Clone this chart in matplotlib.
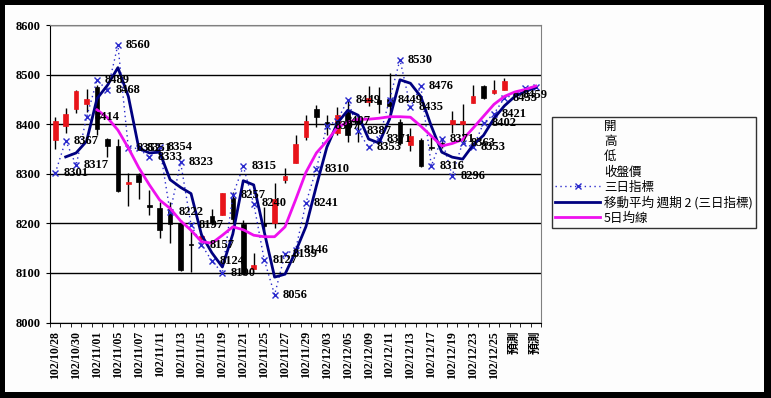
import matplotlib
matplotlib.use('Agg')
import matplotlib.pyplot as plt
import matplotlib.patches as patches
from matplotlib.lines import Line2D
import pandas as pd

dates = ['102/10/28', '102/10/29', '102/10/30', '102/10/31', '102/11/01', '102/11/04',
         '102/11/05', '102/11/06', '102/11/07', '102/11/08', '102/11/11', '102/11/12',
         '102/11/13', '102/11/14', '102/11/15', '102/11/18', '102/11/19', '102/11/20',
         '102/11/21', '102/11/22', '102/11/25', '102/11/26', '102/11/27', '102/11/28',
         '102/11/29', '102/12/02', '102/12/03', '102/12/04', '102/12/05', '102/12/06',
         '102/12/09', '102/12/10', '102/12/11', '102/12/12', '102/12/13', '102/12/16',
         '102/12/17', '102/12/18', '102/12/19', '102/12/20', '102/12/23', '102/12/24',
         '102/12/25', '102/12/26', '預測', '預測', '預測']

# 開 高 低 收盤價 (only real trading days)
opens = [8368, 8396, 8430, 8440, 8474, 8371, 8355, 8279, 8297, 8237, 8230, 8228,
         8200, 8158, 8168, 8215, 8217, 8252, 8198, 8108, 8200, 8200, 8288, 8321,
         8374, 8430, 8405, 8382, 8425, 8408, 8445, 8448, 8450, 8405, 8357, 8368,
         8354, 8362, 8400, 8401, 8443, 8476, 8462, 8469]
highs = [8415, 8432, 8468, 8470, 8479, 8373, 8371, 8301, 8301, 8267, 8244, 8244,
         8207, 8186, 8180, 8228, 8262, 8264, 8207, 8140, 8232, 8281, 8311, 8378,
         8418, 8439, 8418, 8435, 8449, 8418, 8477, 8474, 8503, 8410, 8392, 8372,
         8375, 8368, 8426, 8440, 8479, 8478, 8489, 8493]
lows = [8349, 8383, 8422, 8425, 8378, 8334, 8263, 8234, 8250, 8217, 8170, 8160,
        8103, 8102, 8160, 8196, 8216, 8200, 8096, 8108, 8185, 8190, 8281, 8321,
        8368, 8395, 8378, 8378, 8365, 8365, 8437, 8422, 8415, 8358, 8345, 8313,
        8348, 8352, 8382, 8375, 8443, 8450, 8461, 8468]
closes = [8407, 8420, 8467, 8450, 8390, 8355, 8266, 8284, 8284, 8233, 8187, 8198,
          8106, 8156, 8174, 8200, 8261, 8208, 8098, 8115, 8195, 8250, 8296, 8361,
          8407, 8415, 8397, 8418, 8378, 8400, 8452, 8440, 8437, 8362, 8376, 8316,
          8351, 8360, 8408, 8407, 8456, 8452, 8469, 8488]

# 三日指標
three_day = [8301, 8367, 8317, 8414, 8489, 8468, 8560, 8352, 8351, 8333, 8354, 8222,
             8323, 8197, 8157, 8124, 8100, 8257, 8315, 8240, 8127, 8056, 8139, 8146,
             8241, 8310, 8397, 8407, 8449, 8387, 8353, 8371, 8449, 8530, 8435, 8476,
             8316, 8371, 8296, 8363, 8353, 8402, 8421, 8453, 8459, 8473, 8475]
n_labelled = 45

# 5日均線 (starts at the 5th category)
ma5_start = 4
ma5 = [8429, 8413, 8388, 8352, 8312, 8278, 8247, 8230, 8205, 8186, 8163, 8160,
       8176, 8193, 8187, 8176, 8173, 8173, 8193, 8247, 8303, 8342, 8366, 8393,
       8404, 8410, 8410, 8412, 8415, 8415, 8414, 8396, 8376, 8356, 8361, 8369,
       8392, 8416, 8440, 8456, 8465, 8470, 8477]

legend_labels = ['開', '高', '低', '收盤價', '三日指標', '移動平均 週期 2 (三日指標)', '5日均線']

W, H = 771, 398
fig = plt.figure(figsize=(W / 100, H / 100), dpi=100)
fig.patch.set_facecolor('black')
fig.patches.append(patches.Rectangle((5 / W, 6 / H), 759 / W, 387 / H,
                                     transform=fig.transFigure, facecolor='#fdfdfd',
                                     edgecolor='none', zorder=-10))

ax = fig.add_axes([50 / W, 1 - 322.5 / H, 491 / W, 297.5 / H])
ax.set_facecolor('#fdfdfd')

serif = ['Liberation Serif', 'Noto Sans CJK TC']

# candles
for i in range(len(opens)):
    o, h, l, c = opens[i], highs[i], lows[i], closes[i]
    ax.plot([i, i], [l, h], color='black', lw=1, zorder=3, solid_capstyle='butt')
    col = '#e8141a' if c >= o else 'black'
    ax.add_patch(patches.Rectangle((i - 0.22, min(o, c)), 0.44, max(abs(c - o), 1.5),
                                   facecolor=col, edgecolor=col, lw=0.5, zorder=4))

xs = list(range(len(three_day)))
ax.plot(xs, three_day, color='#2a2acc', lw=1, ls=(0, (1, 2.5)), marker='x',
        markersize=5, markeredgewidth=1, zorder=5)

ma2 = pd.Series(three_day).rolling(2).mean()
ax.plot(xs, ma2, color='#000080', lw=2, zorder=6)

ax.plot(range(ma5_start, ma5_start + len(ma5)), ma5, color='#ee10ee', lw=2, zorder=6)

for i in range(n_labelled):
    ax.annotate(str(three_day[i]), (i, three_day[i]), xytext=(8, 0),
                textcoords='offset pixels', ha='left', va='center',
                fontsize=9, fontweight='bold', family=serif, color='black',
                zorder=8, annotation_clip=False)

ax.set_xlim(-0.5, len(dates) - 0.5)
ax.set_ylim(8000, 8600)
ax.set_yticks(range(8000, 8601, 100))
ax.set_yticklabels([str(v) for v in range(8000, 8601, 100)], family=serif,
                   fontsize=9, fontweight='bold')
ax.yaxis.grid(True, color='black', lw=1)
ax.set_axisbelow(True)

ax.set_xticks(range(0, len(dates), 2))
ax.set_xticklabels(dates[::2], rotation=90, family=serif, fontsize=8.5, fontweight='bold')
ax.set_xticks([i - 0.5 for i in range(len(dates) + 1)], minor=True)
ax.tick_params(axis='x', which='major', length=0, pad=6)
ax.tick_params(axis='x', which='minor', length=3, color='black')
ax.tick_params(axis='y', length=3, pad=4)

for s in ['top', 'right']:
    ax.spines[s].set_color('#808080')
for s in ['left', 'bottom']:
    ax.spines[s].set_color('black')

handles = [Line2D([], [], ls='none') for _ in range(4)]
handles.append(Line2D([], [], color='#2a2acc', lw=1, ls=(0, (1, 2.5)), marker='x',
                      markersize=5))
handles.append(Line2D([], [], color='#000080', lw=2))
handles.append(Line2D([], [], color='#ee10ee', lw=2))
leg = fig.legend(handles, legend_labels, loc='upper left',
                 bbox_to_anchor=(552 / W, 1 - 117 / H), frameon=True, fancybox=False,
                 prop={'family': ['Noto Sans CJK TC', 'DejaVu Sans'], 'size': 9},
                 handlelength=3.6, handletextpad=0.3, labelspacing=0.17,
                 borderpad=0.25, borderaxespad=0)
leg.get_frame().set_edgecolor('black')
leg.get_frame().set_linewidth(1)
leg.get_frame().set_facecolor('#fdfdfd')

fig.savefig('out.png', dpi=100, facecolor=fig.get_facecolor())
